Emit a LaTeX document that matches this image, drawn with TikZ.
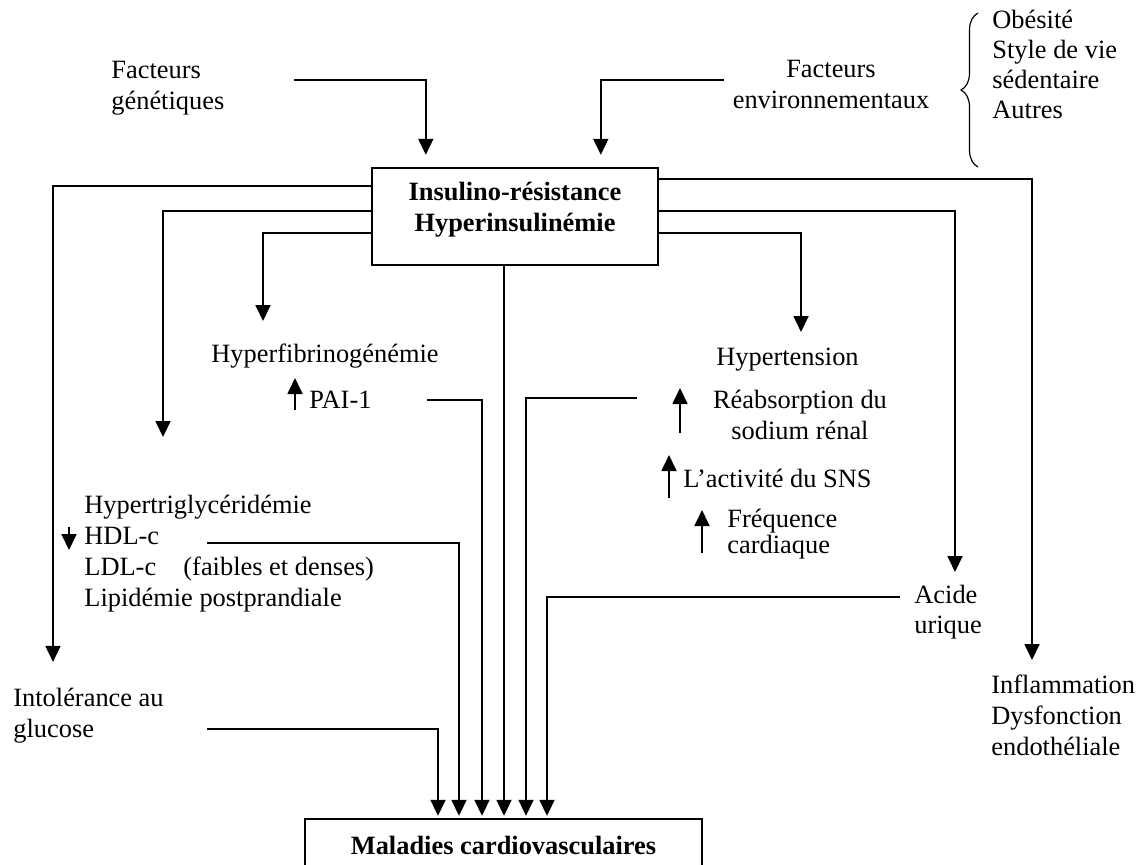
\documentclass[tikz,border=0pt]{standalone}
\usepackage{fontspec}
\setmainfont{Liberation Serif}
\usetikzlibrary{arrows.meta,calc,decorations.pathreplacing}
\begin{document}
\begin{tikzpicture}[x=0.5pt,y=-0.5pt,
  txt/.style={inner sep=0pt, font={\fontsize{13.2pt}{15.5pt}\selectfont}},
  ltxt/.style={txt, align=left, anchor=north west},
  boxed/.style={draw, line width=1.2pt, inner sep=0pt},
  conn/.style={line width=0.9pt},
  arr/.style={conn, -{Triangle[length=8pt,width=7.5pt]}}]
\useasboundingbox (0,0) rectangle (1139,864);
\clip (0,0) rectangle (1139,864);

% boxes
\node[boxed, minimum width=143pt, minimum height=48.5pt] (ir) at (515,216.5) {};
\node[txt, font={\fontsize{13.2pt}{15.5pt}\selectfont\bfseries}, align=center, anchor=north] (irt) at (515,178.3) {\strut Insulino-résistance\\Hyperinsulinémie};
\node[boxed, minimum width=198.5pt, minimum height=26.5pt, font={\fontsize{13.2pt}{15.5pt}\selectfont\bfseries}] (mc) at (503.5,845.5) {Maladies cardiovasculaires};

% texts
\node[ltxt] (fg) at (111,56.3) {\strut Facteurs\\génétiques};
\node[txt, align=center, anchor=north] (fe) at (831,55.3) {\strut Facteurs\\environnementaux};
\node[ltxt, font={\fontsize{13.2pt}{15pt}\selectfont}] (obes) at (992,7) {\strut Obésité\\Style de vie\\sédentaire\\Autres};
\draw[line width=0.6pt, decorate, decoration={brace, amplitude=8.5pt}] (978,167) -- (978,13);

\node[ltxt] (lip) at (84,491.3) {\strut Hypertriglycéridémie\\HDL-c\\LDL-c\hspace{1.03em}(faibles et denses)\\Lipidémie postprandiale};
\node[ltxt] (intol) at (13,683.9) {\strut Intolérance au\\glucose};
\node[txt, anchor=base west] (hf) at (211,362) {Hyperfibrinogénémie};
\node[txt, anchor=base west] (pai) at (309,408) {PAI-1};
\node[txt, anchor=base west] (ht) at (716,365) {Hypertension};
\node[txt, align=center, anchor=north] (reab) at (800,386.3) {\strut Réabsorption du\\sodium rénal};
\node[txt, anchor=base west] (sns) at (683,487) {L’activité du SNS};
\node[ltxt, font={\fontsize{13.2pt}{12.8pt}\selectfont\lineskiplimit=-20pt}] (freq) at (727,509.1) {\strut Fréquence\\cardiaque};
\node[ltxt, font={\fontsize{13.2pt}{15pt}\selectfont}] (acide) at (914,582) {\strut Acide\\urique};
\node[ltxt] (infl) at (991,671.3) {\strut Inflammation\\Dysfonction\\endothéliale};

% inputs to insulin resistance
\draw[arr] ($(fg.north west)+(183,23.7)$) -| ($(ir.north west)+(55,-12)$);
\draw[arr] ($(fe.north)+(-107,24.7)$) -| ($(ir.north west)+(230,-12)$);
% left outputs
\draw[arr] ($(ir.north west)+(0,19)$) -| ($(intol.north west)+(40,-22)$);
\draw[arr] ($(ir.north west)+(0,44)$) -| ($(lip.north west)+(79,-54.3)$);
\draw[arr] ($(ir.north west)+(0,66)$) -| ($(hf.base west)+(52,-41)$);
% right outputs
\draw[arr] ($(ir.north east)+(0,12)$) -| ($(infl.north west)+(41,-11.3)$);
\draw[arr] ($(ir.north east)+(0,44)$) -| ($(acide.north west)+(41,-10)$);
\draw[arr] ($(ir.north east)+(0,66)$) -| ($(ht.base west)+(85,-33)$);
% into cardiovascular diseases
\draw[arr] ($(intol.north west)+(194,45.1)$) -| ($(mc.north)+(-65.5,-2)$);
\draw[arr] ($(lip.north west)+(123,51.7)$) -| ($(mc.north)+(-44.5,-2)$);
\draw[arr] ($(pai.base west)+(118,-8)$) -| ($(mc.north)+(-21.5,-2)$);
\draw[arr] ($(ir.south)+(-11,0)$) -- ($(mc.north)+(0.5,-2)$);
\draw[arr] ($(reab.north)+(-163,11.7)$) -| ($(mc.north)+(22.5,-2)$);
\draw[arr] ($(acide.north west)+(-14,15)$) -| ($(mc.north)+(43.5,-2)$);
% small up/down indicators
\draw[arr] ($(pai.base west)+(-14,2)$) -- ($(pai.base west)+(-14,-30)$);
\draw[arr] ($(lip.north west)+(-15,35.7)$) -- ($(lip.north west)+(-15,58.7)$);
\draw[arr] ($(reab.north)+(-120,46.7)$) -- ($(reab.north)+(-120,1.7)$);
\draw[arr] ($(sns.base west)+(-14,11)$) -- ($(sns.base west)+(-14,-32)$);
\draw[arr] ($(freq.north west)+(-25,43.9)$) -- ($(freq.north west)+(-25,0.9)$);
\end{tikzpicture}
\end{document}
